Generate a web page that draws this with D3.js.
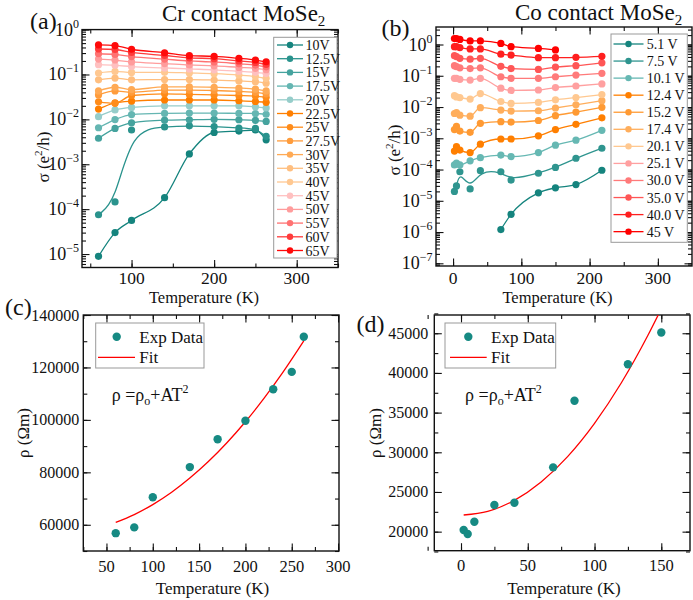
<!DOCTYPE html>
<html>
<head>
<meta charset="utf-8">
<script src="https://cdn.jsdelivr.net/npm/d3@7/dist/d3.min.js"></script>
<style>
html,body{margin:0;padding:0;background:#fff;}
svg{display:block;}
</style>
</head>
<body>
<svg id="fig" width="693" height="600"></svg>
<script>
// ================= DATA =================
// (a) Cr contact MoSe2 : sigma (e^2/h) vs T
const crTemps = [60, 80, 100, 140, 170, 200, 230, 250, 263];
const crLabels = ["10V","12.5V","15V","17.5V","20V","22.5V","25V","27.5V","30V","35V","40V","45V","50V","55V","60V","65V"];
const cr10V  = [8.9e-6, 3.0e-5, 5.6e-5, 1.8e-4, 1.7e-3, 5.1e-3, 5.5e-3, 5.8e-3, 3.5e-3];
const cr12V  = [7.5e-5, 1.45e-4, 5.8e-3, 6.8e-3, 7.2e-3, 6.9e-3, 6.4e-3, 6.3e-3, 4.2e-3];
const cr15V  = [3.8e-3, 6.3e-3, 8.4e-3, 9.6e-3, 9.8e-3, 1.0e-2, 9.8e-3, 9.5e-3, 9.0e-3];
const cr17V  = [6.5e-3, 9.9e-3, 1.28e-2, 1.36e-2, 1.38e-2, 1.38e-2, 1.36e-2, 1.35e-2, 1.3e-2];
const cr20V  = [1.15e-2, 1.62e-2, 1.85e-2, 2.0e-2, 2.0e-2, 2.0e-2, 2.0e-2, 1.9e-2, 1.8e-2];
const cr22V  = [0.017, 0.0234, 0.0255, 0.027, 0.027, 0.027, 0.026, 0.025, 0.024];
const cr25V  = [0.0246, 0.0228, 0.034, 0.037, 0.036, 0.035, 0.034, 0.033, 0.031];
const cr27V  = [0.035, 0.043, 0.040, 0.045, 0.045, 0.044, 0.042, 0.040, 0.037];
const cr30V  = [0.043, 0.052, 0.046, 0.053, 0.053, 0.052, 0.050, 0.047, 0.043];
const cr35V  = [0.076, 0.083, 0.076, 0.077, 0.077, 0.075, 0.072, 0.069, 0.064];
const cr40V  = [0.108, 0.117, 0.111, 0.112, 0.108, 0.104, 0.097, 0.090, 0.082];
const cr45V  = [0.165, 0.160, 0.150, 0.140, 0.133, 0.127, 0.118, 0.112, 0.105];
const cr50V  = [0.22, 0.21, 0.19, 0.175, 0.163, 0.156, 0.144, 0.137, 0.128];
const cr55V  = [0.29, 0.28, 0.25, 0.22, 0.20, 0.19, 0.173, 0.162, 0.148];
const cr60V  = [0.37, 0.36, 0.31, 0.265, 0.235, 0.225, 0.20, 0.185, 0.168];
const cr65V  = [0.455, 0.44, 0.365, 0.305, 0.262, 0.254, 0.229, 0.21, 0.192];
const crSeries = [cr10V, cr12V, cr15V, cr17V, cr20V, cr22V, cr25V, cr27V, cr30V, cr35V, cr40V, cr45V, cr50V, cr55V, cr60V, cr65V];

// (b) Co contact MoSe2 : sigma (e^2/h) vs T
const coTemps = [2, 5, 10, 25, 40, 70, 85, 125, 150, 180, 218];
const coLabels = ["5.1 V","7.5 V","10.1 V","12.4 V","15.2 V","17.4 V","20.1 V","25.1 V","30.0 V","35.0 V","40.0 V","45 V"];
const co5V  = [null, null, null, null, null, 1.2e-6, 3.7e-6, 1.8e-5, 2.6e-5, 3.3e-5, 9.5e-5];
const co7V  = [2.0e-5, 3.0e-5, 8.5e-5, 2.4e-5, 9.2e-5, 8.5e-5, 4.6e-5, 7.6e-5, 1.17e-4, 2.3e-4, 4.8e-4];
const co10V = [1.4e-4, 1.6e-4, 1.4e-4, 1.9e-4, 2.4e-4, 2.9e-4, 2.6e-4, 3.5e-4, 6.0e-4, 8.7e-4, 1.8e-3];
const co12V = [3.9e-4, 5.4e-4, 4.2e-4, 3.5e-4, 6.5e-4, 9.5e-4, 9.5e-4, 1.2e-3, 1.9e-3, 2.8e-3, 4.5e-3];
const co15V = [1.9e-3, 2.4e-3, 1.7e-3, 1.55e-3, 3.0e-3, 3.4e-3, 3.3e-3, 3.7e-3, 5.3e-3, 6.9e-3, 9.8e-3];
const co17V = [6.2e-3, 6.6e-3, 5.5e-3, 5.1e-3, 9.5e-3, 8.0e-3, 7.4e-3, 7.6e-3, 9.3e-3, 1.18e-2, 1.6e-2];
const co20V = [0.023, 0.021, 0.020, 0.018, 0.027, 0.015, 0.013, 0.014, 0.017, 0.020, 0.025];
const co25V = [0.083, 0.083, 0.077, 0.073, 0.083, 0.040, 0.034, 0.035, 0.042, 0.047, 0.055];
const co30V = [0.21, 0.195, 0.18, 0.17, 0.18, 0.093, 0.083, 0.083, 0.093, 0.105, 0.12];
const co35V = [0.44, 0.41, 0.36, 0.34, 0.36, 0.20, 0.17, 0.16, 0.19, 0.21, 0.26];
const co40V = [0.85, 0.85, 0.80, 0.72, 0.72, 0.49, 0.46, 0.38, 0.38, 0.39, 0.42];
const co45V = [1.55, 1.55, 1.45, 1.30, 1.30, 1.08, 0.85, 0.75, 0.67, null, null];
const coSeries = [co5V, co7V, co10V, co12V, co15V, co17V, co20V, co25V, co30V, co35V, co40V, co45V];

// (c) Cr contact resistivity
const cTemps = [60, 80, 100, 140, 170, 200, 230, 250, 263];
const cRho   = [56800, 59000, 70500, 82000, 92600, 99700, 111700, 118300, 131700];
const cFitT   = [60, 80, 100, 120, 140, 160, 180, 200, 220, 240, 263];
const cFitRho = [60900, 63900, 67700, 72300, 77800, 84100, 91300, 99300, 108200, 117900, 130100];

// (d) Co contact resistivity
const dTemps = [2, 5, 10, 25, 40, 69, 85, 125, 150];
const dRho   = [20200, 19700, 21250, 23350, 23650, 28100, 36500, 41100, 45100];
const dFitT   = [2, 20, 40, 60, 80, 100, 120, 140, 150];
const dFitRho = [22100, 22560, 23950, 26260, 29490, 33650, 38730, 44740, 48090];

// tick values
const aXTicks = [100, 200, 300];
const aXMinor = [50, 100, 150, 200, 250, 300, 350];
const aDecades = [-5, -4, -3, -2, -1, 0];
const bXTicks = [0, 100, 200, 300];
const bXMinor = [0, 50, 100, 150, 200, 250, 300];
const bDecades = [-7, -6, -5, -4, -3, -2, -1, 0];
const cXTicks = [50, 100, 150, 200, 250, 300];
const cXMinor = [25, 50, 75, 100, 125, 150, 175, 200, 225, 250, 275, 300];
const cYTicks = [60000, 80000, 100000, 120000, 140000];
const cYMinor = [50000, 60000, 70000, 80000, 90000, 100000, 110000, 120000, 130000, 140000];
const dXTicks = [0, 50, 100, 150];
const dXMinor = [-25, 0, 25, 50, 75, 100, 125, 150];
const dYTicks = [20000, 25000, 30000, 35000, 40000, 45000];
const dYMinor = [17500, 20000, 22500, 25000, 27500, 30000, 32500, 35000, 37500, 40000, 42500, 45000, 47500];

// ================= STYLE =================
const FONT = '"Liberation Serif","Times New Roman",Times,serif';
const INK = "#111";
const crColors = ["#15847e","#2a938d","#45a39e","#65b6b2","#96cdca",
                  "#ff7f00","#ff8c1a","#ff9c3c","#ffaa55","#ffbf80","#ffc891",
                  "#ffc0c0","#ff9c9c","#ff7272","#ff3b3b","#ff0a0a"];
const coColors = ["#15847e","#2f958f","#66b8b3",
                  "#ff7f00","#ff9a33","#ffae5c","#ffc890",
                  "#ffa0a0","#ff7a7a","#ff5656","#ff1f1f","#ff0000"];
const crSmooth = ["12.5V"];
const coSmooth = ["7.5 V"];
const TEAL = "#168a83";

const svg = d3.select("#fig");

// ---------- helpers ----------
function txt(g, x, y, s, size, anchor) {
  return g.append("text").attr("x", x).attr("y", y).attr("font-family", FONT)
    .attr("font-size", size).attr("fill", INK).attr("text-anchor", anchor || "start").text(s);
}
function tickSet(g, axisFn, scale, vals, size, tr) {
  g.append("g").attr("transform", tr)
    .call(axisFn(scale).tickValues(vals).tickSize(-size).tickFormat(""))
    .call(a => a.select(".domain").remove())
    .selectAll("line").attr("stroke", INK).attr("stroke-width", 1.1);
}
function frame(g, x, y, xMajor, xMinor, yMajor, yMinor) {
  const [xl, xr] = x.range(), [yb, yt] = y.range();
  tickSet(g, d3.axisBottom, x, xMinor, 4, `translate(0,${yb})`);
  tickSet(g, d3.axisBottom, x, xMajor, 7.5, `translate(0,${yb})`);
  tickSet(g, d3.axisTop, x, xMinor, 4, `translate(0,${yt})`);
  tickSet(g, d3.axisTop, x, xMajor, 7.5, `translate(0,${yt})`);
  tickSet(g, d3.axisLeft, y, yMinor, 4, `translate(${xl},0)`);
  tickSet(g, d3.axisLeft, y, yMajor, 7.5, `translate(${xl},0)`);
  tickSet(g, d3.axisRight, y, yMinor, 4, `translate(${xr},0)`);
  tickSet(g, d3.axisRight, y, yMajor, 7.5, `translate(${xr},0)`);
  g.append("rect").attr("x", xl).attr("y", yt).attr("width", xr - xl).attr("height", yb - yt)
    .attr("fill", "none").attr("stroke", INK).attr("stroke-width", 1.4);
}
function clip(id, x, y) {
  const [xl, xr] = x.range(), [yb, yt] = y.range();
  svg.append("clipPath").attr("id", id).append("rect")
    .attr("x", xl).attr("y", yt).attr("width", xr - xl).attr("height", yb - yt);
}

// ---------- sigma panels (a), (b) ----------
function sigmaPanel(c) {
  const g = svg.append("g");
  const x = d3.scaleLinear().domain(c.xDomain).range([c.left, c.right]);
  const y = d3.scaleLog().domain(c.yDomain).range([c.bottom, c.top]);
  clip(c.id, x, y);
  const minor = y.ticks();
  const major = c.decades.map(e => Math.pow(10, e));
  frame(g, x, y, c.xTicks, c.xMinor, major, minor);

  const plot = g.append("g").attr("clip-path", `url(#${c.id})`);
  c.series.forEach((vals, i) => {
    const pts = c.temps.map((t, j) => [t, vals[j]]).filter(d => d[1] != null);
    const curve = c.smooth.includes(c.labels[i]) ? d3.curveBasis : d3.curveMonotoneX;
    plot.append("path")
      .attr("d", d3.line().x(d => x(d[0])).y(d => y(d[1])).curve(curve)(pts))
      .attr("fill", "none").attr("stroke", c.colors[i]).attr("stroke-width", 1.3);
    plot.selectAll(null).data(pts).join("circle")
      .attr("cx", d => x(d[0])).attr("cy", d => y(d[1])).attr("r", 3.6)
      .attr("fill", c.colors[i]);
  });

  // x tick labels
  c.xTicks.forEach(v => txt(g, x(v), c.bottom + c.xLabOff, v, 17.5, "middle"));
  // y tick labels 10^n
  c.decades.forEach(e => {
    const t = g.append("text").attr("x", c.left - c.yLabGap).attr("y", y(Math.pow(10, e)) + 6)
      .attr("font-family", FONT).attr("font-size", 18).attr("fill", INK).attr("text-anchor", "end");
    t.append("tspan").text("10");
    t.append("tspan").attr("font-size", 12).attr("dy", -8).text(e < 0 ? "\u2212" + (-e) : String(e));
  });
  // axis titles
  txt(g, c.xTitleX, c.xTitleY, "Temperature (K)", 16.5, "middle");
  const yt = g.append("text").attr("transform", `translate(${c.yTitleX},${c.yTitleY}) rotate(-90)`)
    .attr("font-family", FONT).attr("font-size", 17).attr("fill", INK).attr("text-anchor", "middle");
  yt.append("tspan").text("\u03c3 (e");
  yt.append("tspan").attr("font-size", 11).attr("dy", -7).text("2");
  yt.append("tspan").attr("dy", 7).text("/h)");

  // legend
  const lg = g.append("g");
  lg.append("rect").attr("x", c.leg.x0).attr("y", c.leg.y0).attr("width", c.leg.x1 - c.leg.x0)
    .attr("height", c.leg.y1 - c.leg.y0).attr("fill", "#fff").attr("stroke", "#999").attr("stroke-width", 1);
  c.labels.forEach((lab, i) => {
    const yy = c.leg.first + i * c.leg.step;
    lg.append("line").attr("x1", c.leg.l0).attr("x2", c.leg.l1).attr("y1", yy).attr("y2", yy)
      .attr("stroke", c.colors[i]).attr("stroke-width", 1.3);
    lg.append("circle").attr("cx", (c.leg.l0 + c.leg.l1) / 2).attr("cy", yy).attr("r", 3.2).attr("fill", c.colors[i]);
    txt(lg, c.leg.tx, yy + 5, lab, c.leg.fs, "start");
  });

  // titles
  const tt = g.append("text").attr("x", c.titleX).attr("y", c.titleY).attr("font-family", FONT)
    .attr("font-size", 23).attr("fill", INK);
  tt.append("tspan").text(c.title);
  tt.append("tspan").attr("font-size", 15).attr("dy", 5).text("2");
  txt(g, c.tagX, c.tagY, c.tag, 24, "start");
}

sigmaPanel({
  id: "clipA", left: 82, right: 338, top: 29.6, bottom: 267.5,
  xDomain: [40, 350], yDomain: [Math.pow(10, -5.3), 1],
  temps: crTemps, series: crSeries, labels: crLabels, colors: crColors, smooth: crSmooth,
  xTicks: aXTicks, xMinor: aXMinor, decades: aDecades, xLabOff: 16.5, yLabGap: 3,
  xTitleX: 204, xTitleY: 303, yTitleX: 48.5, yTitleY: 157,
  leg: {x0: 273.7, x1: 337, y0: 37.3, y1: 258, first: 45, step: 13.7, l0: 277, l1: 303, tx: 305.5, fs: 14},
  title: "Cr contact MoSe", titleX: 162, titleY: 21, tag: "(a)", tagX: 30, tagY: 29
});

sigmaPanel({
  id: "clipB", left: 436, right: 692, top: 27, bottom: 266,
  xDomain: [-25, 350], yDomain: [Math.pow(10, -7.086), Math.pow(10, 0.56)],
  temps: coTemps, series: coSeries, labels: coLabels, colors: coColors, smooth: coSmooth,
  xTicks: bXTicks, xMinor: bXMinor, decades: bDecades, xLabOff: 17.5, yLabGap: 3.5,
  xTitleX: 557.5, xTitleY: 302.5, yTitleX: 400, yTitleY: 150,
  leg: {x0: 611, x1: 687.3, y0: 34, y1: 242.3, first: 44, step: 17.06, l0: 613.5, l1: 643.5, tx: 646.7, fs: 14},
  title: "Co contact MoSe", titleX: 515, titleY: 19.5, tag: "(b)", tagX: 381.5, tagY: 36
});

// ---------- resistivity panels (c), (d) ----------
function rhoPanel(c) {
  const g = svg.append("g");
  const x = d3.scaleLinear().domain(c.xDomain).range([c.left, c.right]);
  const y = d3.scaleLinear().domain(c.yDomain).range([c.bottom, c.top]);
  clip(c.id, x, y);
  frame(g, x, y, c.xTicks, c.xMinor, c.yTicks, c.yMinor);
  const plot = g.append("g").attr("clip-path", `url(#${c.id})`);
  const fit = c.fitT.map((t, i) => [t, c.fitRho[i]]);
  plot.append("path").attr("d", d3.line().x(d => x(d[0])).y(d => y(d[1])).curve(d3.curveMonotoneX)(fit))
    .attr("fill", "none").attr("stroke", "#ff0000").attr("stroke-width", 1.3);
  const pts = c.temps.map((t, i) => [t, c.rho[i]]);
  plot.selectAll(null).data(pts).join("circle")
    .attr("cx", d => x(d[0])).attr("cy", d => y(d[1])).attr("r", 4.2).attr("fill", TEAL);

  c.xTicks.forEach(v => txt(g, x(v), c.bottom + 20.5, v, 16.5, "middle"));
  c.yTicks.forEach(v => txt(g, c.left - c.yLabGap, y(v) + 5.5, v, 16, "end"));
  txt(g, c.xTitleX, 594, "Temperature (K)", 17, "middle");
  g.append("text").attr("transform", `translate(${c.yTitleX},433) rotate(-90)`)
    .attr("font-family", FONT).attr("font-size", 17).attr("fill", INK).attr("text-anchor", "middle")
    .text("\u03c1 (\u03a9m)");

  // legend
  const L = c.leg;
  g.append("rect").attr("x", L.x0).attr("y", 323).attr("width", L.x1 - L.x0).attr("height", 45)
    .attr("fill", "#fff").attr("stroke", "#999").attr("stroke-width", 1);
  g.append("circle").attr("cx", L.dot).attr("cy", 336.7).attr("r", 4.2).attr("fill", TEAL);
  txt(g, L.tx, 342.5, "Exp Data", 17, "start");
  g.append("line").attr("x1", L.l0).attr("x2", L.l1).attr("y1", 357.3).attr("y2", 357.3)
    .attr("stroke", "#ff0000").attr("stroke-width", 1.3);
  txt(g, L.tx, 363, "Fit", 17, "start");

  // equation
  const eq = g.append("text").attr("x", c.eqX).attr("y", 401).attr("font-family", FONT)
    .attr("font-size", 18).attr("fill", INK);
  eq.append("tspan").text("\u03c1 =\u03c1");
  eq.append("tspan").attr("font-size", 12).attr("dy", 4).text("o");
  eq.append("tspan").attr("dy", -4).text("+AT");
  eq.append("tspan").attr("font-size", 12).attr("dy", -8).text("2");

  txt(g, c.tagX, c.tagY, c.tag, 24, "start");
}

rhoPanel({
  id: "clipC", left: 83.3, right: 339, top: 315, bottom: 551,
  xDomain: [25, 301], yDomain: [50000, 140000],
  temps: cTemps, rho: cRho, fitT: cFitT, fitRho: cFitRho,
  xTicks: cXTicks, xMinor: cXMinor, yTicks: cYTicks, yMinor: cYMinor, yLabGap: 4,
  xTitleX: 212.5, yTitleX: 29,
  leg: {x0: 95.7, x1: 204, dot: 116.7, tx: 139.3, l0: 98, l1: 135},
  eqX: 111.7, tag: "(c)", tagX: 5, tagY: 315
});

rhoPanel({
  id: "clipD", left: 434.3, right: 690, top: 315, bottom: 550.7,
  xDomain: [-20, 171.5], yDomain: [17600, 47300],
  temps: dTemps, rho: dRho, fitT: dFitT, fitRho: dFitRho,
  xTicks: dXTicks, xMinor: dXMinor, yTicks: dYTicks, yMinor: dYMinor, yLabGap: 6,
  xTitleX: 564, yTitleX: 381,
  leg: {x0: 445, x1: 555.7, dot: 468.3, tx: 491, l0: 450, l1: 486.7},
  eqX: 465, tag: "(d)", tagX: 356.5, tagY: 332
});
</script>
</body>
</html>
